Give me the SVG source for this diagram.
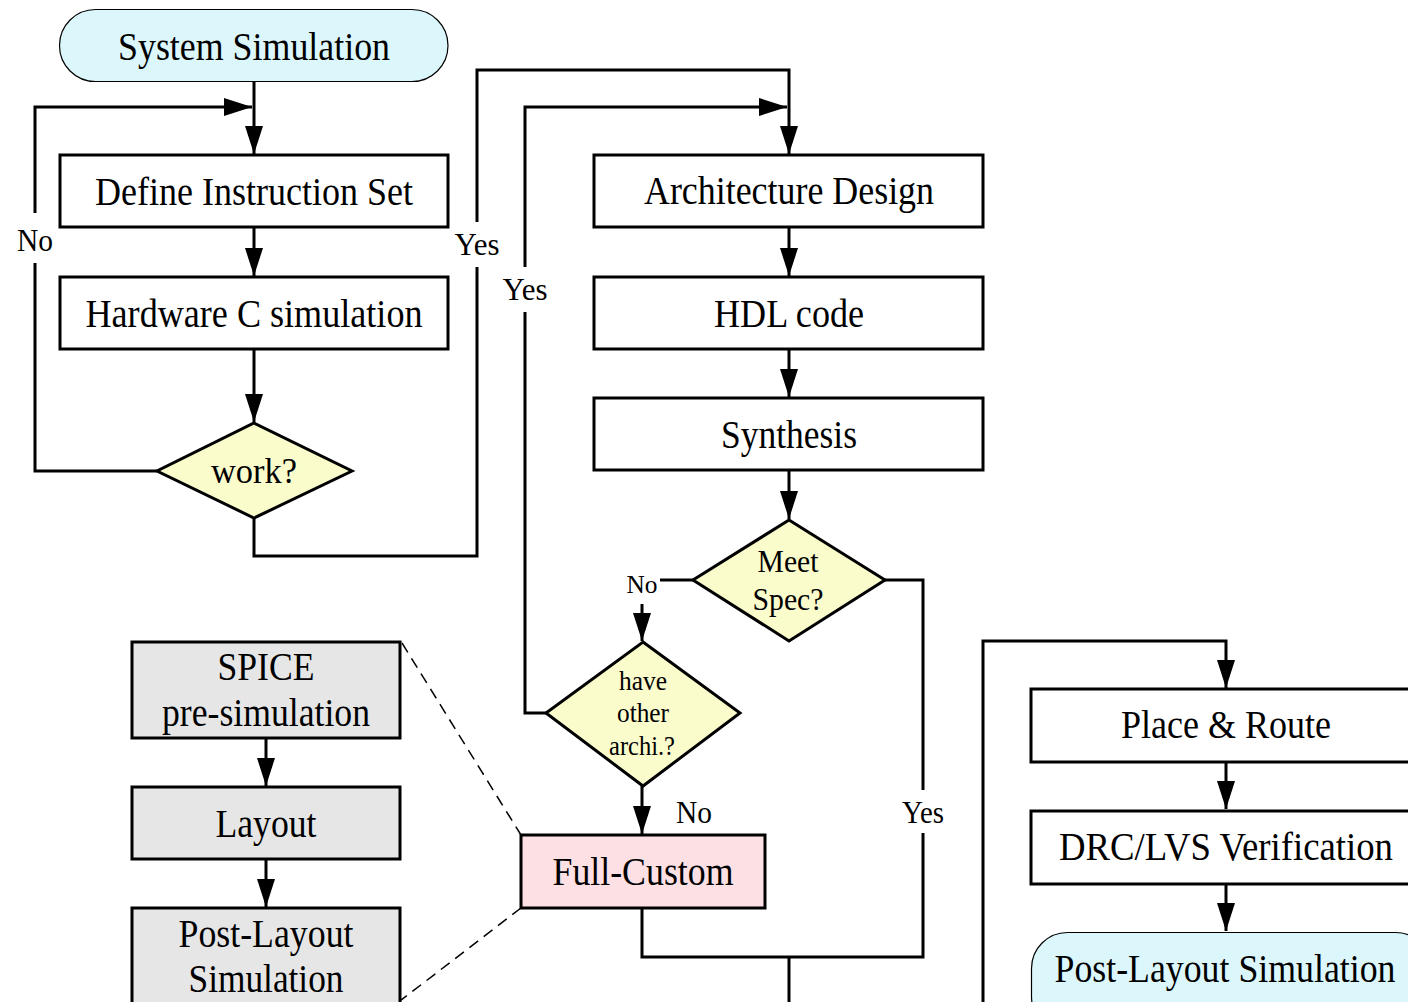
<svg xmlns="http://www.w3.org/2000/svg" width="1408" height="1002" viewBox="0 0 1408 1002">
<defs>
<marker id="ah" markerUnits="userSpaceOnUse" markerWidth="28" markerHeight="18" refX="28" refY="9" orient="auto">
<path d="M0,0 L28,9 L0,18 z" fill="#000"/>
</marker>
<style>
text{font-family:"Liberation Serif","Times New Roman",serif;fill:#000;text-anchor:middle}
.box{fill:#fff;stroke:#000;stroke-width:3}
.term{fill:#dcf7fb;stroke:#000;stroke-width:1.2}
.dec{fill:#fbfccc;stroke:#000;stroke-width:3}
.gray{fill:#e6e6e6;stroke:#000;stroke-width:3}
.pink{fill:#fde0e3;stroke:#000;stroke-width:3}
.t40{font-size:40px}
.t36{font-size:36px}
.t32{font-size:32px}
.t28{font-size:28px}
.t26{font-size:26px}
.c{fill:none;stroke:#000;stroke-width:3}
.a{fill:none;stroke:#000;stroke-width:3;marker-end:url(#ah)}
.d{fill:none;stroke:#000;stroke-width:1.5;stroke-dasharray:11 7}
</style>
</defs>
<rect width="1408" height="1002" fill="#fff"/>

<g id="connectors">
<path class="a" d="M254,82 V154"/>
<path class="c" d="M157,471 H35 V263"/>
<path class="a" d="M35,213 V107 H252"/>
<path class="a" d="M254,228 V276"/>
<path class="a" d="M254,349 V422"/>
<path class="c" d="M254,518 V556 H477 V267"/>
<path class="a" d="M477,222 V70 H789 V154"/>
<path class="a" d="M789,228 V276"/>
<path class="a" d="M789,349 V397"/>
<path class="a" d="M789,470 V519"/>
<path class="c" d="M693,580 H660"/>
<path class="a" d="M642,604 V641"/>
<path class="c" d="M546,713 H525 V312"/>
<path class="a" d="M525,267 V107 H787"/>
<path class="a" d="M642,786 V834"/>
<path class="c" d="M885,580 H923 V790"/>
<path class="c" d="M923,833 V957 H642 V908"/>
<path class="c" d="M789,957 V1004"/>
<path class="a" d="M983,1004 V641 H1226 V688"/>
<path class="a" d="M1226,762 V809"/>
<path class="a" d="M1226,884 V931"/>
<path class="a" d="M266,738 V786"/>
<path class="a" d="M266,859 V907"/>
<path class="d" d="M402,643 L521,835"/>
<path class="d" d="M521,908 L396,1004"/>
<text class="t32" x="35" y="251" textLength="36" lengthAdjust="spacingAndGlyphs">No</text>
<text class="t32" x="477" y="255" textLength="45" lengthAdjust="spacingAndGlyphs">Yes</text>
<text class="t32" x="525" y="300" textLength="45" lengthAdjust="spacingAndGlyphs">Yes</text>
<text class="t26" x="642" y="593" textLength="31" lengthAdjust="spacingAndGlyphs">No</text>
<text class="t32" x="694" y="823" textLength="36" lengthAdjust="spacingAndGlyphs">No</text>
<text class="t32" x="923" y="823" textLength="42" lengthAdjust="spacingAndGlyphs">Yes</text>
</g>

<g id="system-simulation">
<rect class="term" x="59.5" y="9.5" width="388.5" height="72" rx="36"/>
<text class="t40" x="254" y="60" textLength="272" lengthAdjust="spacingAndGlyphs">System Simulation</text>
</g>
<g id="define-instruction-set">
<rect class="box" x="60" y="155" width="388" height="72"/>
<text class="t40" x="254" y="205" textLength="318" lengthAdjust="spacingAndGlyphs">Define Instruction Set</text>
</g>
<g id="hardware-c-simulation">
<rect class="box" x="60" y="277" width="388" height="72"/>
<text class="t40" x="254" y="327" textLength="337" lengthAdjust="spacingAndGlyphs">Hardware C simulation</text>
</g>
<g id="work">
<polygon class="dec" points="254,423 352,471 254,518 157,471"/>
<text class="t36" x="254" y="483" textLength="86" lengthAdjust="spacingAndGlyphs">work?</text>
</g>
<g id="architecture-design">
<rect class="box" x="594" y="155" width="389" height="72"/>
<text class="t40" x="789" y="204" textLength="290" lengthAdjust="spacingAndGlyphs">Architecture Design</text>
</g>
<g id="hdl-code">
<rect class="box" x="594" y="277" width="389" height="72"/>
<text class="t40" x="789" y="327" textLength="150" lengthAdjust="spacingAndGlyphs">HDL code</text>
</g>
<g id="synthesis">
<rect class="box" x="594" y="398" width="389" height="72"/>
<text class="t40" x="789" y="448" textLength="136" lengthAdjust="spacingAndGlyphs">Synthesis</text>
</g>
<g id="meet-spec">
<polygon class="dec" points="789,520 885,580 789,641 693,580"/>
<text class="t32" x="788" y="572" textLength="61" lengthAdjust="spacingAndGlyphs">Meet</text>
<text class="t32" x="788" y="610" textLength="71" lengthAdjust="spacingAndGlyphs">Spec?</text>
</g>
<g id="have-other-archi">
<polygon class="dec" points="643,642 740,713 643,786 546,713"/>
<text class="t28" x="643" y="690" textLength="48" lengthAdjust="spacingAndGlyphs">have</text>
<text class="t28" x="643" y="722" textLength="52" lengthAdjust="spacingAndGlyphs">other</text>
<text class="t28" x="642" y="755" textLength="66" lengthAdjust="spacingAndGlyphs">archi.?</text>
</g>
<g id="full-custom">
<rect class="pink" x="521" y="835" width="244" height="73"/>
<text class="t40" x="643" y="885" textLength="181" lengthAdjust="spacingAndGlyphs">Full-Custom</text>
</g>
<g id="spice-pre-simulation">
<rect class="gray" x="132" y="642" width="268" height="96"/>
<text class="t40" x="266" y="680" textLength="97" lengthAdjust="spacingAndGlyphs">SPICE</text>
<text class="t40" x="266" y="726" textLength="208" lengthAdjust="spacingAndGlyphs">pre-simulation</text>
</g>
<g id="layout">
<rect class="gray" x="132" y="787" width="268" height="72"/>
<text class="t40" x="266" y="837" textLength="101" lengthAdjust="spacingAndGlyphs">Layout</text>
</g>
<g id="post-layout-simulation-left">
<rect class="gray" x="132" y="908" width="268" height="110"/>
<text class="t40" x="266" y="947" textLength="175" lengthAdjust="spacingAndGlyphs">Post-Layout</text>
<text class="t40" x="266" y="992" textLength="155" lengthAdjust="spacingAndGlyphs">Simulation</text>
</g>
<g id="place-route">
<rect class="box" x="1031" y="689" width="400" height="73"/>
<text class="t40" x="1226" y="738" textLength="210" lengthAdjust="spacingAndGlyphs">Place &amp; Route</text>
</g>
<g id="drc-lvs-verification">
<rect class="box" x="1031" y="811" width="400" height="73"/>
<text class="t40" x="1226" y="860" textLength="334" lengthAdjust="spacingAndGlyphs">DRC/LVS Verification</text>
</g>
<g id="post-layout-simulation-right">
<rect class="term" x="1031.5" y="932.5" width="400" height="100" rx="36"/>
<text class="t40" x="1225" y="982" textLength="341" lengthAdjust="spacingAndGlyphs">Post-Layout Simulation</text>
</g>
</svg>
